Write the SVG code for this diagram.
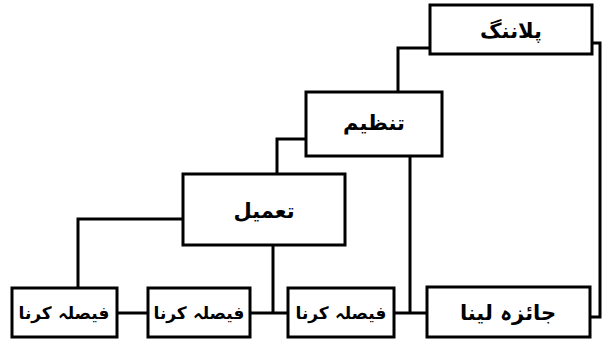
<svg xmlns="http://www.w3.org/2000/svg" width="605" height="339" viewBox="0 0 605 339">
<style>
.box{fill:#fff;stroke:#000;stroke-width:3}
.ln{fill:none;stroke:#000;stroke-width:3}
text{font-family:"DejaVu Sans","Noto Sans",sans-serif;font-size:21px;font-weight:bold;text-anchor:middle;direction:rtl;fill:#000}
text.sm{font-size:17px}
</style>
<rect width="605" height="339" fill="#fff"/>
<g id="connectors">
<polyline class="ln" points="430,48 398,48 398,92"/>
<polyline class="ln" points="592,43 600,43 600,317 590,317"/>
<polyline class="ln" points="306,139 277,139 277,174"/>
<polyline class="ln" points="410,156 410,313"/>
<polyline class="ln" points="183,219 78,219 78,288"/>
<polyline class="ln" points="273,245 273,313"/>
<line class="ln" x1="117" y1="313" x2="148" y2="313"/>
<line class="ln" x1="250" y1="313" x2="288" y2="313"/>
<line class="ln" x1="394" y1="313" x2="427" y2="313"/>
</g>
<g id="planning"><rect class="box" x="430" y="5" width="162" height="49"/><text x="511" y="38">پلاننگ</text></g>
<g id="tanzeem"><rect class="box" x="306" y="92" width="136" height="64"/><text x="374" y="130">تنظیم</text></g>
<g id="tameel"><rect class="box" x="183" y="174" width="162" height="71"/><text x="264" y="218">تعمیل</text></g>
<g id="faisla1"><rect class="box" x="12" y="288" width="105" height="49"/><text class="sm" x="64" y="319">فیصلہ کرنا</text></g>
<g id="faisla2"><rect class="box" x="148" y="288" width="102" height="49"/><text class="sm" x="199" y="319">فیصلہ کرنا</text></g>
<g id="faisla3"><rect class="box" x="288" y="288" width="106" height="49"/><text class="sm" x="341" y="319">فیصلہ کرنا</text></g>
<g id="jaiza"><rect class="box" x="427" y="287" width="163" height="50"/><text x="508" y="320">جائزہ لینا</text></g>
</svg>
